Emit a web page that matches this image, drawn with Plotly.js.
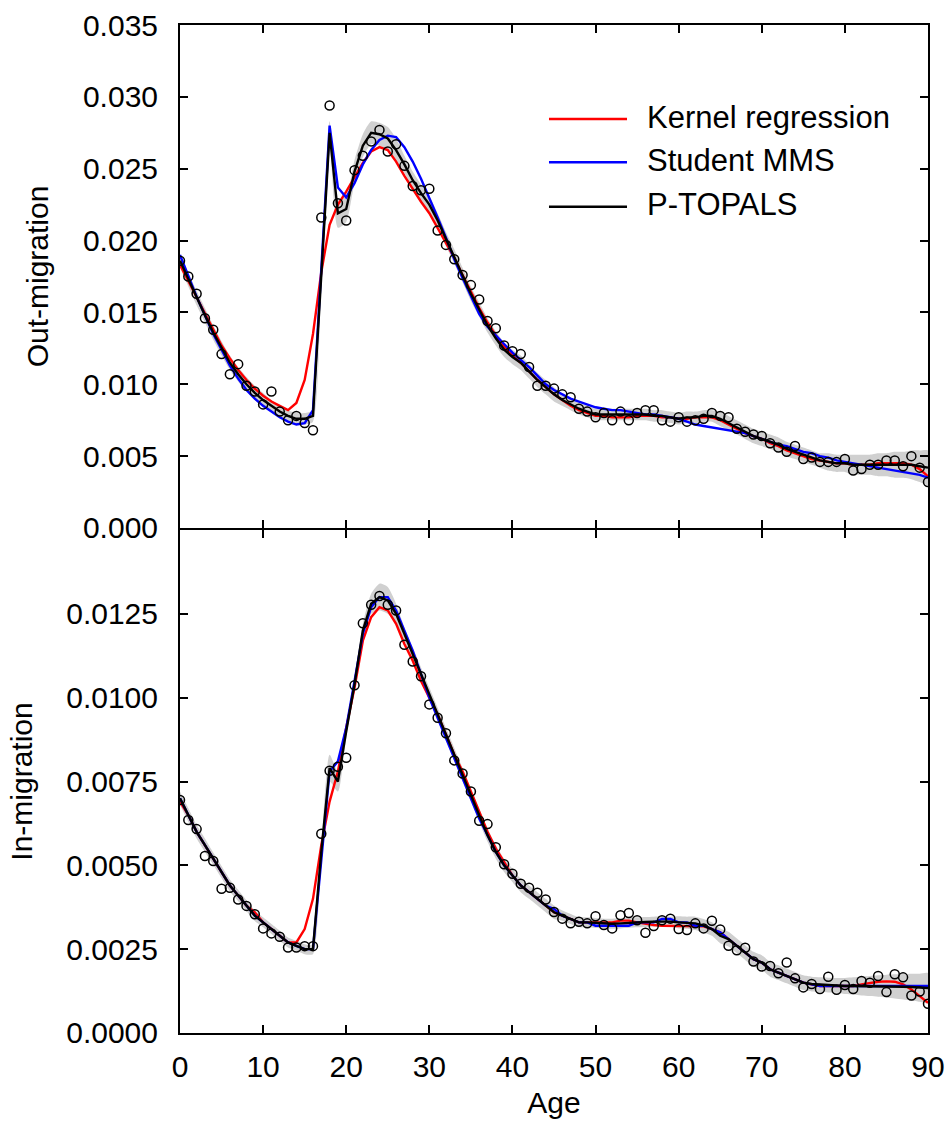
<!DOCTYPE html>
<html>
<head>
<meta charset="utf-8">
<script src="https://cdn.plot.ly/plotly-3.0.1.min.js"></script>
<style>html,body{margin:0;padding:0;background:#fff;}</style>
</head>
<body>
<div id="chart" style="width:948px;height:1126px;"></div>
<script>
// Ages (x categories)
const ages = [0,1,2,3,4,5,6,7,8,9,10,11,12,13,14,15,16,17,18,19,20,21,22,23,24,25,26,27,28,29,30,31,32,33,34,35,36,37,38,39,40,41,42,43,44,45,46,47,48,49,50,51,52,53,54,55,56,57,58,59,60,61,62,63,64,65,66,67,68,69,70,71,72,73,74,75,76,77,78,79,80,81,82,83,84,85,86,87,88,89,90];
const ageTicks = [0,10,20,30,40,50,60,70,80,90];
const outTicks = [0,0.005,0.010,0.015,0.020,0.025,0.030,0.035];
const inTicks = [0,0.0025,0.0050,0.0075,0.0100,0.0125];

// ---------- Out-migration (top panel) ----------
const outObs = [0.0186,0.0175,0.0163,0.0146,0.0138,0.0121,0.0107,0.0114,0.0099,0.0095,0.0086,0.0095,0.0081,0.0075,0.0078,0.0073,0.0068,0.0216,0.0294,0.0226,0.0214,0.0249,0.0259,0.0269,0.0277,0.0262,0.0267,0.0252,0.0238,0.0235,0.0236,0.0207,0.0197,0.0187,0.0176,0.0169,0.0159,0.0144,0.0139,0.0127,0.0123,0.0121,0.0112,0.0099,0.0099,0.0097,0.0093,0.0091,0.0083,0.0081,0.0077,0.0080,0.0075,0.0081,0.0075,0.0080,0.0082,0.0082,0.0075,0.0074,0.0077,0.0074,0.0075,0.0076,0.0080,0.0078,0.0077,0.0069,0.0067,0.0065,0.0064,0.0059,0.0056,0.0053,0.0057,0.0048,0.0049,0.0046,0.0046,0.0046,0.0048,0.0040,0.0041,0.0044,0.0044,0.0047,0.0047,0.0043,0.0050,0.0042,0.0032];
const outKernel = [0.0183,0.0172,0.0160,0.0149,0.0138,0.0127,0.0118,0.0110,0.0103,0.0097,0.0092,0.0088,0.0085,0.0082,0.0087,0.0103,0.0135,0.0178,0.0211,0.0225,0.0234,0.0244,0.0254,0.0262,0.0265,0.0263,0.0255,0.0245,0.0236,0.0227,0.0219,0.0209,0.0199,0.0188,0.0176,0.0164,0.0153,0.0143,0.0134,0.0126,0.0120,0.0115,0.0109,0.0103,0.0098,0.0093,0.0089,0.0085,0.0082,0.0080,0.0078,0.0078,0.0077,0.0077,0.0077,0.0078,0.0078,0.0078,0.0077,0.0077,0.0076,0.0076,0.0077,0.0077,0.0077,0.0075,0.0072,0.0069,0.0066,0.0064,0.0062,0.0059,0.0057,0.0054,0.0052,0.0050,0.0048,0.0047,0.0046,0.0045,0.0045,0.0044,0.0044,0.0044,0.0045,0.0045,0.0045,0.0045,0.0044,0.0041,0.0036];
const outMMS = [0.0190,0.0175,0.0161,0.0148,0.0135,0.0124,0.0113,0.0104,0.0096,0.0090,0.0085,0.0081,0.0077,0.0074,0.0072,0.0073,0.0082,0.0180,0.0280,0.0237,0.0230,0.0240,0.0253,0.0263,0.0270,0.0273,0.0272,0.0265,0.0255,0.0243,0.0230,0.0216,0.0202,0.0187,0.0174,0.0161,0.0149,0.0140,0.0134,0.0128,0.0122,0.0117,0.0112,0.0106,0.0100,0.0096,0.0093,0.0090,0.0088,0.0086,0.0084,0.0083,0.0082,0.0082,0.0081,0.0080,0.0079,0.0079,0.0078,0.0077,0.0076,0.0074,0.0072,0.0071,0.0070,0.0069,0.0068,0.0067,0.0066,0.0064,0.0062,0.0060,0.0058,0.0057,0.0055,0.0053,0.0052,0.0050,0.0049,0.0047,0.0046,0.0045,0.0044,0.0043,0.0042,0.0041,0.0040,0.0039,0.0038,0.0037,0.0035];
const outTopals = [0.0186,0.0173,0.0160,0.0148,0.0136,0.0125,0.0115,0.0107,0.0100,0.0094,0.0089,0.0085,0.0081,0.0078,0.0076,0.0076,0.0078,0.0176,0.0275,0.0219,0.0222,0.0248,0.0266,0.0275,0.0274,0.0271,0.0263,0.0253,0.0242,0.0233,0.0225,0.0214,0.0201,0.0189,0.0176,0.0163,0.0152,0.0141,0.0132,0.0124,0.0119,0.0115,0.0109,0.0103,0.0098,0.0093,0.0089,0.0086,0.0083,0.0081,0.0079,0.0079,0.0079,0.0079,0.0079,0.0079,0.0079,0.0078,0.0078,0.0077,0.0076,0.0077,0.0077,0.0078,0.0078,0.0076,0.0073,0.0070,0.0067,0.0064,0.0062,0.0060,0.0058,0.0055,0.0053,0.0051,0.0049,0.0047,0.0046,0.0045,0.0045,0.0044,0.0044,0.0044,0.0044,0.0044,0.0044,0.0044,0.0044,0.0043,0.0042];
// half-width of the P-TOPALS credible band
const outBand = [0.0005,0.0005,0.0005,0.0005,0.0005,0.0005,0.0005,0.0005,0.0005,0.0005,0.0005,0.0004,0.0004,0.0004,0.0004,0.0004,0.0004,0.0006,0.0008,0.0010,0.0009,0.0008,0.0008,0.0008,0.0008,0.0008,0.0008,0.0006,0.0006,0.0006,0.0006,0.0005,0.0005,0.0005,0.0005,0.0005,0.0005,0.0005,0.0005,0.0005,0.0005,0.0005,0.0005,0.0005,0.0005,0.0005,0.0004,0.0004,0.0004,0.0004,0.0004,0.0004,0.0004,0.0004,0.0004,0.0004,0.0004,0.0004,0.0004,0.0004,0.0004,0.0004,0.0004,0.0004,0.0004,0.0005,0.0005,0.0005,0.0005,0.0005,0.0005,0.0005,0.0005,0.0005,0.0005,0.0005,0.0005,0.0005,0.0006,0.0006,0.0006,0.0007,0.0007,0.0007,0.0008,0.0008,0.0009,0.0009,0.0010,0.0011,0.0012];

// ---------- In-migration (bottom panel) ----------
const inObs = [0.00695,0.00635,0.00608,0.00528,0.00513,0.00430,0.00433,0.00398,0.00379,0.00354,0.00312,0.00297,0.00287,0.00255,0.00255,0.00259,0.00259,0.00594,0.00782,0.00794,0.00821,0.01037,0.01222,0.01277,0.01303,0.01277,0.01260,0.01158,0.01108,0.01064,0.00980,0.00940,0.00894,0.00813,0.00774,0.00720,0.00633,0.00623,0.00554,0.00503,0.00475,0.00445,0.00433,0.00418,0.00398,0.00361,0.00341,0.00327,0.00332,0.00327,0.00348,0.00322,0.00312,0.00351,0.00358,0.00336,0.00299,0.00319,0.00336,0.00341,0.00310,0.00307,0.00327,0.00312,0.00335,0.00309,0.00260,0.00247,0.00254,0.00213,0.00198,0.00200,0.00178,0.00210,0.00163,0.00136,0.00146,0.00131,0.00168,0.00129,0.00143,0.00131,0.00155,0.00150,0.00170,0.00122,0.00175,0.00166,0.00112,0.00124,0.00087];
const inKernel = [0.0069,0.0065,0.0060,0.0056,0.0052,0.0048,0.0044,0.0041,0.0038,0.0036,0.0033,0.0031,0.0029,0.0027,0.0027,0.0031,0.0040,0.0056,0.0069,0.0078,0.0091,0.0103,0.0117,0.0124,0.0127,0.0126,0.0122,0.0116,0.0111,0.0105,0.0100,0.0095,0.0089,0.0083,0.0078,0.0072,0.0066,0.0060,0.0055,0.0051,0.0047,0.0044,0.0042,0.0040,0.0038,0.0036,0.0035,0.0034,0.0033,0.0033,0.0033,0.0033,0.0033,0.00335,0.00335,0.0033,0.00325,0.00322,0.0032,0.0032,0.0032,0.0032,0.0032,0.00318,0.0031,0.0030,0.0028,0.0026,0.0024,0.0022,0.0021,0.0019,0.0018,0.0017,0.0016,0.0015,0.00145,0.0014,0.0014,0.0014,0.0014,0.0014,0.00145,0.0015,0.00153,0.00154,0.00153,0.00145,0.0013,0.0011,0.0009];
const inMMS = [0.0070,0.0065,0.0060,0.0056,0.0052,0.0048,0.0044,0.0041,0.0038,0.0035,0.0033,0.0031,0.0029,0.0027,0.0026,0.0025,0.0025,0.0052,0.0078,0.0081,0.0091,0.0105,0.0119,0.0127,0.0130,0.0130,0.0126,0.0120,0.0114,0.0107,0.0100,0.0094,0.0088,0.0082,0.0076,0.0070,0.0064,0.0059,0.0054,0.0050,0.0047,0.0044,0.0042,0.0040,0.0038,0.0037,0.0035,0.0034,0.0033,0.0033,0.0032,0.0032,0.0032,0.0032,0.0032,0.0033,0.0033,0.0033,0.0034,0.0034,0.0033,0.0033,0.0032,0.0032,0.0031,0.0030,0.0028,0.0026,0.0024,0.0022,0.0021,0.0019,0.0018,0.0017,0.0016,0.0015,0.00145,0.0014,0.0014,0.0014,0.0014,0.0014,0.0014,0.0014,0.0014,0.0014,0.0014,0.0014,0.0014,0.0014,0.0014];
const inTopals = [0.0070,0.0065,0.0060,0.0056,0.0052,0.0048,0.0044,0.0041,0.0038,0.0035,0.0033,0.0031,0.0029,0.0027,0.0026,0.0025,0.0025,0.0054,0.0079,0.0075,0.0090,0.0104,0.0120,0.0128,0.0130,0.0129,0.0125,0.0119,0.0113,0.0107,0.0101,0.0095,0.0089,0.0083,0.0077,0.0071,0.0065,0.0059,0.0054,0.0050,0.0047,0.0044,0.0042,0.0040,0.0038,0.0036,0.0035,0.0034,0.0033,0.0033,0.00328,0.00326,0.00326,0.00327,0.00329,0.0033,0.00331,0.00332,0.00333,0.00332,0.0033,0.00329,0.00327,0.0032,0.0031,0.0029,0.0028,0.0026,0.0024,0.0022,0.0021,0.0019,0.0018,0.0017,0.0016,0.0015,0.00146,0.00144,0.00143,0.00142,0.0014,0.0014,0.0014,0.0014,0.0014,0.0014,0.00139,0.00138,0.00137,0.00135,0.00134];
const inBand = [0.0002,0.0002,0.0002,0.0002,0.00018,0.00018,0.00018,0.00017,0.00016,0.00016,0.00015,0.00015,0.00015,0.00015,0.00015,0.00015,0.00015,0.0002,0.0004,0.0003,0.0002,0.0002,0.0002,0.0003,0.0004,0.0004,0.0003,0.0002,0.0002,0.0002,0.0002,0.0002,0.0002,0.0002,0.0002,0.0002,0.0002,0.0002,0.0002,0.0002,0.0002,0.0002,0.0002,0.0002,0.0002,0.0002,0.00015,0.00015,0.00015,0.00015,0.00015,0.00015,0.00015,0.00015,0.00015,0.00015,0.00015,0.00015,0.00015,0.00015,0.00018,0.00018,0.0002,0.0002,0.0002,0.00022,0.00022,0.00022,0.00022,0.00022,0.00022,0.00022,0.00022,0.00022,0.00022,0.00022,0.00022,0.00022,0.00022,0.00022,0.00024,0.00026,0.00028,0.0003,0.00032,0.00034,0.00036,0.00038,0.0004,0.00042,0.00045];

const seriesNames = ['Kernel regression','Student MMS','P-TOPALS'];
const seriesColors = ['#ff0000','#0000ff','#000000'];
const FONT = 'Liberation Sans, Arial, Helvetica, sans-serif';

function bandTrace(center, half, xa, ya) {
  const up = center.map((v,i)=>v+half[i]);
  const lo = center.map((v,i)=>v-half[i]);
  return {x: ages.concat(ages.slice().reverse()), y: up.concat(lo.slice().reverse()),
    type:'scatter', mode:'lines', fill:'toself', fillcolor:'#d0d0d0',
    line:{width:0, color:'rgba(0,0,0,0)', shape:'spline', smoothing:0.6}, hoverinfo:'skip', xaxis:xa, yaxis:ya, showlegend:false};
}
function lineTrace(y, idx, xa, ya) {
  return {x: ages, y: y, type:'scatter', mode:'lines', name: seriesNames[idx],
    line:{color: seriesColors[idx], width: 2.4}, xaxis:xa, yaxis:ya, showlegend:false};
}
function pointTrace(y, xa, ya) {
  return {x: ages, y: y, type:'scatter', mode:'markers',
    marker:{symbol:'circle', size:9, color:'rgba(0,0,0,0)', line:{color:'#000', width:1.5}},
    xaxis:xa, yaxis:ya, showlegend:false};
}

const data = [
  bandTrace(outTopals, outBand, 'x', 'y'),
  lineTrace(outKernel, 0, 'x', 'y'),
  lineTrace(outMMS, 1, 'x', 'y'),
  lineTrace(outTopals, 2, 'x', 'y'),
  pointTrace(outObs, 'x', 'y'),
  bandTrace(inTopals, inBand, 'x2', 'y2'),
  lineTrace(inKernel, 0, 'x2', 'y2'),
  lineTrace(inMMS, 1, 'x2', 'y2'),
  lineTrace(inTopals, 2, 'x2', 'y2'),
  pointTrace(inObs, 'x2', 'y2')
];

const axisCommon = {
  showgrid:false, zeroline:false, showline:true, linecolor:'#000', linewidth:2,
  mirror:'ticks', ticks:'inside', ticklen:8, tickwidth:2, tickcolor:'#000',
  tickfont:{family:FONT, size:30, color:'#000'}
};

// Manual legend (lines + labels) in paper coordinates
const legendY = [0.9067, 0.8638, 0.8197];
const shapes = seriesNames.map((n,i)=>({type:'line', xref:'paper', yref:'paper',
  x0:0.4933, x1:0.5976, y0:legendY[i], y1:legendY[i], line:{color:seriesColors[i], width:2.5}}));
const annotations = seriesNames.map((n,i)=>({xref:'paper', yref:'paper', x:0.621, y:legendY[i]+0.002,
  xanchor:'left', yanchor:'middle', text:n, showarrow:false, font:{family:FONT, size:31, color:'#000'}}));

const layout = {
  width:948, height:1126, margin:{l:180, r:20, t:25, b:93},
  paper_bgcolor:'#fff', plot_bgcolor:'#fff', showlegend:false,
  font:{family:FONT, size:30, color:'#000'},
  xaxis: Object.assign({}, axisCommon, {anchor:'y', domain:[0,1], range:[0,90], tickvals:ageTicks, showticklabels:false}),
  yaxis: Object.assign({}, axisCommon, {anchor:'x', domain:[0.501,1], range:[0,0.035], tickvals:outTicks,
    tickformat:'.3f', ticklabelstandoff:14, title:{text:'Out-migration', font:{family:FONT, size:30}, standoff:25}}),
  xaxis2: Object.assign({}, axisCommon, {anchor:'y2', domain:[0,1], range:[0,90], tickvals:ageTicks,
    ticklabelstandoff:6, title:{text:'Age', font:{family:FONT, size:30}, standoff:10}}),
  yaxis2: Object.assign({}, axisCommon, {anchor:'x2', domain:[0,0.499], range:[0,0.015], tickvals:inTicks,
    tickformat:'.4f', ticklabelstandoff:14, title:{text:'In-migration', font:{family:FONT, size:30}, standoff:25}}),
  shapes: shapes,
  annotations: annotations
};

Plotly.newPlot('chart', data, layout, {displayModeBar:false, staticPlot:true});
</script>
</body>
</html>
